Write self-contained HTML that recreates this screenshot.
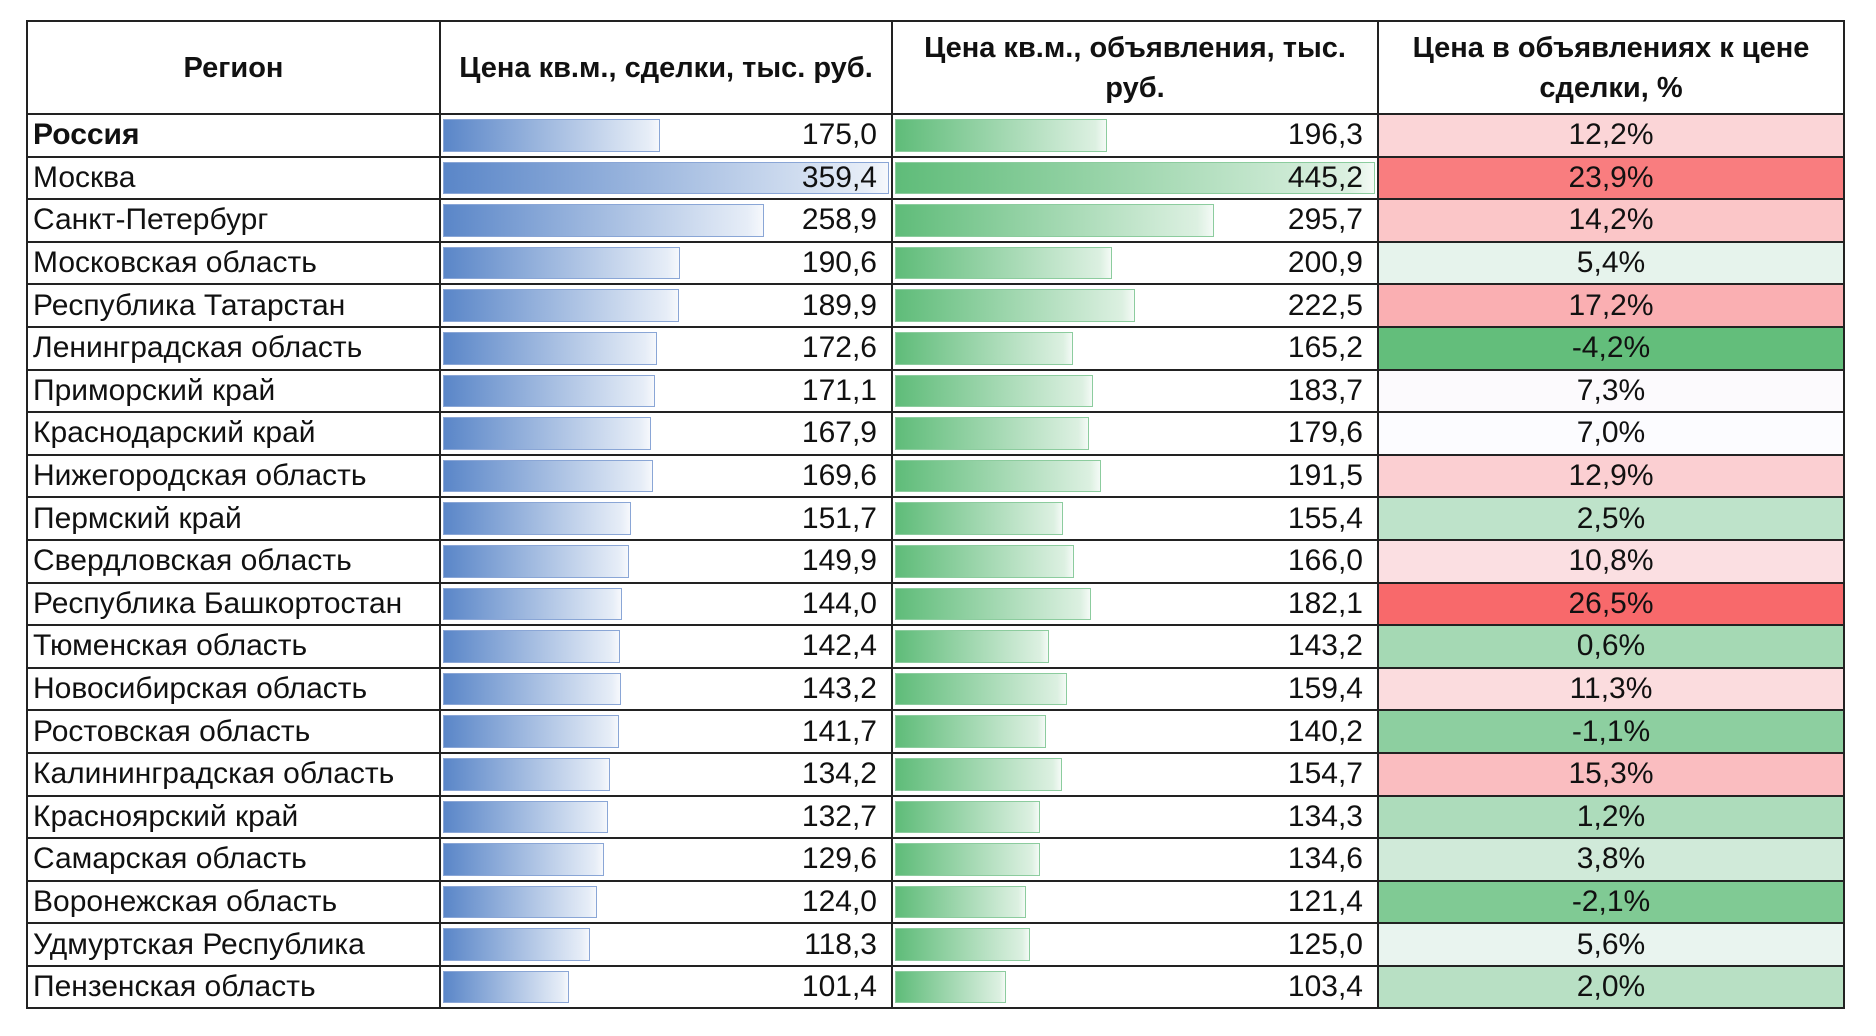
<!DOCTYPE html>
<html><head><meta charset="utf-8"><style>
body{margin:0;background:#fff;width:1876px;height:1036px;overflow:hidden;font-family:"Liberation Sans",sans-serif;}
table{position:absolute;left:26px;top:20px;border-collapse:collapse;table-layout:fixed;width:1817px;}
td,th{border:2px solid #222;padding:0;position:relative;color:#111;}
th{height:91px;font-size:29px;font-weight:bold;text-align:center;line-height:40px;white-space:nowrap;}
td{height:40.6px;font-size:30px;line-height:30px;}
td.r{padding-left:5px;white-space:nowrap;}
td.v{text-align:right;padding-right:14px;}
td.p{text-align:center;}
.b{position:absolute;left:2px;top:4px;bottom:4px;}
.c1 .b{width:calc((100% - 4px) * var(--w) / 359.4);background:linear-gradient(90deg,#5a86c8,#e6edf7 95%,#f6f8fc);border:1px solid #8aa6d6;box-sizing:border-box;}
.c2 .b{width:calc((100% - 4px) * var(--w) / 445.2);background:linear-gradient(90deg,#5fbc79,#dcf0e1 95%,#f4faf6);border:1px solid #8ccc9e;box-sizing:border-box;}
td span{position:relative;}
</style></head><body>
<table>
<colgroup><col style="width:413px"><col style="width:452px"><col style="width:486px"><col style="width:466px"></colgroup>
<tr><th>Регион</th><th>Цена кв.м., сделки, тыс. руб.</th><th>Цена кв.м., объявления, тыс.<br>руб.</th><th>Цена в объявлениях к цене<br>сделки, %</th></tr>
<tr><td class="r"><b>Россия</b></td><td class="v c1"><div class="b" style="--w:175.0"></div><span>175,0</span></td><td class="v c2"><div class="b" style="--w:196.3"></div><span>196,3</span></td><td class="p" style="background:rgb(251,213,215)">12,2%</td></tr>
<tr><td class="r">Москва</td><td class="v c1"><div class="b" style="--w:359.4"></div><span>359,4</span></td><td class="v c2"><div class="b" style="--w:445.2"></div><span>445,2</span></td><td class="p" style="background:rgb(249,125,127)">23,9%</td></tr>
<tr><td class="r">Санкт-Петербург</td><td class="v c1"><div class="b" style="--w:258.9"></div><span>258,9</span></td><td class="v c2"><div class="b" style="--w:295.7"></div><span>295,7</span></td><td class="p" style="background:rgb(251,198,200)">14,2%</td></tr>
<tr><td class="r">Московская область</td><td class="v c1"><div class="b" style="--w:190.6"></div><span>190,6</span></td><td class="v c2"><div class="b" style="--w:200.9"></div><span>200,9</span></td><td class="p" style="background:rgb(230,243,236)">5,4%</td></tr>
<tr><td class="r">Республика Татарстан</td><td class="v c1"><div class="b" style="--w:189.9"></div><span>189,9</span></td><td class="v c2"><div class="b" style="--w:222.5"></div><span>222,5</span></td><td class="p" style="background:rgb(250,175,178)">17,2%</td></tr>
<tr><td class="r">Ленинградская область</td><td class="v c1"><div class="b" style="--w:172.6"></div><span>172,6</span></td><td class="v c2"><div class="b" style="--w:165.2"></div><span>165,2</span></td><td class="p" style="background:rgb(99,190,123)">-4,2%</td></tr>
<tr><td class="r">Приморский край</td><td class="v c1"><div class="b" style="--w:171.1"></div><span>171,1</span></td><td class="v c2"><div class="b" style="--w:183.7"></div><span>183,7</span></td><td class="p" style="background:rgb(252,250,253)">7,3%</td></tr>
<tr><td class="r">Краснодарский край</td><td class="v c1"><div class="b" style="--w:167.9"></div><span>167,9</span></td><td class="v c2"><div class="b" style="--w:179.6"></div><span>179,6</span></td><td class="p" style="background:rgb(252,252,255)">7,0%</td></tr>
<tr><td class="r">Нижегородская область</td><td class="v c1"><div class="b" style="--w:169.6"></div><span>169,6</span></td><td class="v c2"><div class="b" style="--w:191.5"></div><span>191,5</span></td><td class="p" style="background:rgb(251,207,210)">12,9%</td></tr>
<tr><td class="r">Пермский край</td><td class="v c1"><div class="b" style="--w:151.7"></div><span>151,7</span></td><td class="v c2"><div class="b" style="--w:155.4"></div><span>155,4</span></td><td class="p" style="background:rgb(190,227,202)">2,5%</td></tr>
<tr><td class="r">Свердловская область</td><td class="v c1"><div class="b" style="--w:149.9"></div><span>149,9</span></td><td class="v c2"><div class="b" style="--w:166.0"></div><span>166,0</span></td><td class="p" style="background:rgb(251,223,226)">10,8%</td></tr>
<tr><td class="r">Республика Башкортостан</td><td class="v c1"><div class="b" style="--w:144.0"></div><span>144,0</span></td><td class="v c2"><div class="b" style="--w:182.1"></div><span>182,1</span></td><td class="p" style="background:rgb(248,105,107)">26,5%</td></tr>
<tr><td class="r">Тюменская область</td><td class="v c1"><div class="b" style="--w:142.4"></div><span>142,4</span></td><td class="v c2"><div class="b" style="--w:143.2"></div><span>143,2</span></td><td class="p" style="background:rgb(165,217,180)">0,6%</td></tr>
<tr><td class="r">Новосибирская область</td><td class="v c1"><div class="b" style="--w:143.2"></div><span>143,2</span></td><td class="v c2"><div class="b" style="--w:159.4"></div><span>159,4</span></td><td class="p" style="background:rgb(251,220,222)">11,3%</td></tr>
<tr><td class="r">Ростовская область</td><td class="v c1"><div class="b" style="--w:141.7"></div><span>141,7</span></td><td class="v c2"><div class="b" style="--w:140.2"></div><span>140,2</span></td><td class="p" style="background:rgb(141,207,160)">-1,1%</td></tr>
<tr><td class="r">Калининградская область</td><td class="v c1"><div class="b" style="--w:134.2"></div><span>134,2</span></td><td class="v c2"><div class="b" style="--w:154.7"></div><span>154,7</span></td><td class="p" style="background:rgb(250,189,192)">15,3%</td></tr>
<tr><td class="r">Красноярский край</td><td class="v c1"><div class="b" style="--w:132.7"></div><span>132,7</span></td><td class="v c2"><div class="b" style="--w:134.3"></div><span>134,3</span></td><td class="p" style="background:rgb(173,220,187)">1,2%</td></tr>
<tr><td class="r">Самарская область</td><td class="v c1"><div class="b" style="--w:129.6"></div><span>129,6</span></td><td class="v c2"><div class="b" style="--w:134.6"></div><span>134,6</span></td><td class="p" style="background:rgb(208,234,217)">3,8%</td></tr>
<tr><td class="r">Воронежская область</td><td class="v c1"><div class="b" style="--w:124.0"></div><span>124,0</span></td><td class="v c2"><div class="b" style="--w:121.4"></div><span>121,4</span></td><td class="p" style="background:rgb(128,202,148)">-2,1%</td></tr>
<tr><td class="r">Удмуртская Республика</td><td class="v c1"><div class="b" style="--w:118.3"></div><span>118,3</span></td><td class="v c2"><div class="b" style="--w:125.0"></div><span>125,0</span></td><td class="p" style="background:rgb(233,244,239)">5,6%</td></tr>
<tr><td class="r">Пензенская область</td><td class="v c1"><div class="b" style="--w:101.4"></div><span>101,4</span></td><td class="v c2"><div class="b" style="--w:103.4"></div><span>103,4</span></td><td class="p" style="background:rgb(184,224,196)">2,0%</td></tr>
</table>
</body></html>
